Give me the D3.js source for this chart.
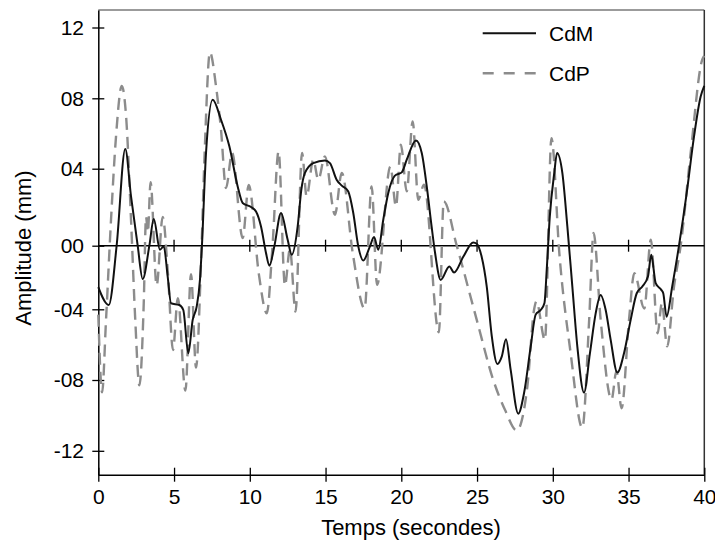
<!DOCTYPE html>
<html><head><meta charset="utf-8">
<script src="https://cdn.jsdelivr.net/npm/d3@7"></script>
<style>
body{margin:0;background:#fff}
svg{display:block}
text{font-family:"Liberation Sans",Arial,Helvetica,sans-serif;fill:#000}
</style>
</head><body>
<svg id="chart" width="715" height="540"></svg>
<script>
// ---- data ----
const seriesNames = ["CdM", "CdP"];
const xTickValues = [0, 5, 10, 15, 20, 25, 30, 35, 40];
const yTickValues = [12, 8, 4, 0, -4, -8, -12];
const yTickLabels = ["12", "08", "04", "00", "-04", "-08", "-12"];

const cdmTime = [0, 0.69, 1.21, 1.78, 2.16, 2.6, 2.93, 3.37, 3.66, 4.07, 4.32, 4.58, 4.8, 5.35, 5.61, 5.94, 6.23, 6.49, 6.71, 6.84, 7.11, 7.55, 8.1, 8.65, 9.2, 9.53, 10.08, 10.41, 10.74, 11.07, 11.29, 11.62, 12.06, 12.5, 12.77, 13.16, 13.4, 13.64, 14.19, 14.96, 15.29, 15.73, 16.07, 16.5, 16.83, 17.16, 17.49, 17.93, 18.2, 18.48, 18.81, 19.14, 19.58, 20.03, 20.36, 20.97, 21.35, 21.68, 22.0, 22.23, 22.6, 23.17, 23.48, 24.1, 24.75, 24.98, 25.3, 25.64, 25.97, 26.34, 26.63, 26.91, 27.22, 27.72, 28.1, 28.54, 28.87, 29.2, 29.45, 29.6, 29.8, 30.1, 30.28, 30.63, 30.96, 31.29, 31.62, 32.06, 32.45, 32.83, 33.16, 33.49, 33.82, 34.26, 34.7, 35.14, 35.54, 35.91, 36.28, 36.5, 36.79, 37.16, 37.29, 37.51, 37.88, 38.33, 38.84, 39.32, 39.76, 40];
const cdmValues = [-2.6, -3.73, 0, 5.12, 2.56, 0, -2.1, 0, 1.39, -0.25, -0.04, -1.94, -3.62, -3.73, -4.04, -6.49, -4.6, -3.85, -2.15, 0, 4.89, 7.92, 6.78, 5.27, 3.08, 2.22, 2.01, 1.78, 1.0, -0.46, -1.26, -0.04, 1.7, 0.31, -0.57, 1.0, 2.9, 3.78, 4.32, 4.47, 4.32, 3.43, 3.12, 2.82, 1.7, -0.04, -0.93, -0.04, 0.45, -0.25, 1.35, 2.74, 3.64, 3.81, 4.51, 5.6, 4.89, 3.08, 1.0, -0.46, -2.15, -1.31, -1.69, -0.68, 0.17, 0.1, -0.68, -2.57, -5.5, -7.09, -6.68, -5.7, -7.43, -9.9, -8.75, -6.12, -4.3, -4.04, -3.6, -1.5, 1.5, 3.8, 4.89, 3.78, 1.0, -2.57, -6.11, -8.71, -6.49, -4.23, -3.1, -4.04, -5.73, -7.58, -6.49, -4.6, -2.99, -2.57, -1.94, -0.57, -2.36, -2.78, -2.99, -4.42, -2.57, 0, 2.74, 5.82, 8.1, 8.7];

const cdpTime = [0, 0.25, 0.51, 0.84, 1.17, 1.55, 1.85, 2.16, 2.44, 2.71, 3.0, 3.15, 3.27, 3.45, 3.85, 4.25, 4.6, 4.93, 5.25, 5.75, 6.12, 6.45, 6.8, 7.02, 7.37, 7.77, 8.1, 8.43, 8.83, 9.53, 9.93, 10.6, 11.12, 11.5, 11.9, 12.32, 12.65, 13.02, 13.45, 13.75, 14.19, 14.52, 14.96, 15.62, 16.07, 16.8, 17.58, 18.04, 18.4, 19.28, 19.65, 19.97, 20.36, 20.75, 21.12, 21.5, 22.48, 22.8, 23.66, 24.98, 26.07, 26.85, 27.62, 28.32, 28.76, 28.92, 29.48, 29.91, 30.43, 31.18, 31.95, 32.4, 32.69, 33.16, 33.88, 34.2, 34.54, 35.03, 35.38, 36.04, 36.47, 36.92, 37.2, 37.55, 38.0, 38.44, 39.1, 39.87, 40];
const cdpValues = [-4.3, -8.7, -4.6, 1.35, 5.84, 8.7, 6.78, 1.35, -4.6, -8.3, -3.6, 1.5, 0.7, 3.3, -2.5, 1.5, -1.8, -6.3, -3.3, -8.6, -1.8, -7.3, -0.5, 4.9, 10.6, 8.68, 6.2, 3.0, 4.9, 0.4, 3.15, -1.8, -4.23, 0, 4.98, -2.5, -0.2, -4.13, 4.89, 2.56, 4.51, 3.43, 4.7, 1.61, 3.78, -0.5, -3.95, 3.08, -2.46, 4.13, 2.04, 5.36, 2.82, 6.69, 2.39, 3.17, -5.3, 2.3, 0, -4.6, -8.0, -9.7, -10.85, -8.37, -4.04, -3.5, -5.73, 5.74, -0.46, -6.49, -10.7, -4.6, 0.66, -4.6, -9.1, -7.5, -9.6, -4.6, -1.73, -3.95, 0.31, -5.36, -3.6, -6.1, -2.57, 0, 4.9, 10.2, 10.4];

// ---- chart ----
const svg = d3.select("#chart");
const x = d3.scaleLinear().domain([0, 40]).range([98.3, 704.3]);
const y = d3.scaleLinear()
  .domain([-13.36, -12, -8, -4, 0, 4, 8, 12, 13])
  .range([474.7, 450.8, 380, 309.3, 245.7, 168.7, 98.3, 27.5, 10]);

const xL = x.range()[0], xR = x.range()[1];
const yB = y.range()[0], yT = y.range()[y.range().length - 1];

// frame top/right
svg.append("line").attr("x1", xL).attr("x2", xR).attr("y1", yT).attr("y2", yT)
  .attr("stroke", "#7a7a7a").attr("stroke-width", 1.5);
svg.append("line").attr("x1", xR).attr("x2", xR).attr("y1", yT).attr("y2", yB)
  .attr("stroke", "#333").attr("stroke-width", 1.5);

// zero line with ticks
svg.append("line").attr("x1", xL).attr("x2", xR).attr("y1", y(0)).attr("y2", y(0))
  .attr("stroke", "#000").attr("stroke-width", 1.5);
svg.append("g").selectAll("line").data(xTickValues.filter(d => d > 0 && d < 40)).join("line")
  .attr("x1", d => x(d)).attr("x2", d => x(d))
  .attr("y1", y(0) - 6).attr("y2", y(0) + 6)
  .attr("stroke", "#000").attr("stroke-width", 1.3);

// axes
const yAxis = d3.axisLeft(y).tickValues(yTickValues)
  .tickFormat(d => yTickLabels[yTickValues.indexOf(d)])
  .tickSizeInner(6).tickSizeOuter(0).tickPadding(8.3);
const gy = svg.append("g").attr("transform", `translate(${xL},0)`).call(yAxis);
gy.selectAll(".tick line").attr("x1", 6).attr("x2", -6).attr("stroke-width", 1.3);
gy.select(".domain").attr("stroke-width", 1.5);
gy.selectAll("text").style("font-size", "21px").attr("font-family", null);

const xAxis = d3.axisBottom(x).tickValues(xTickValues).tickFormat(d3.format("d"))
  .tickSizeInner(7).tickSizeOuter(0).tickPadding(7.4);
const gx = svg.append("g").attr("transform", `translate(0,${yB})`).call(xAxis);
gx.selectAll(".tick line").attr("y1", -7).attr("y2", 7).attr("stroke-width", 1.3);
gx.select(".domain").attr("stroke-width", 1.5);
gx.selectAll("text").style("font-size", "21px").attr("font-family", null);

// lines
const cdp = cdpTime.map((t, i) => ({t, v: cdpValues[i]}));
const cdm = cdmTime.map((t, i) => ({t, v: cdmValues[i]}));
const line = d3.line().x(d => x(d.t)).y(d => y(d.v)).curve(d3.curveMonotoneX);

svg.append("path").datum(cdp).attr("d", line)
  .attr("fill", "none").attr("stroke", "#8c8c8c").attr("stroke-width", 2.4)
  .attr("stroke-dasharray", "12,7");
svg.append("path").datum(cdm).attr("d", line)
  .attr("fill", "none").attr("stroke", "#111").attr("stroke-width", 2);

// titles
svg.append("text").attr("x", 411).attr("y", 535).attr("text-anchor", "middle")
  .style("font-size", "22px").text("Temps (secondes)");
svg.append("text").attr("transform", "translate(31,248) rotate(-90)")
  .attr("text-anchor", "middle").style("font-size", "22px").text("Amplitude (mm)");

// legend
const legend = svg.append("g");
const legY = [33.3, 73.3];
legend.append("line").attr("x1", 482.7).attr("x2", 536).attr("y1", legY[0]).attr("y2", legY[0])
  .attr("stroke", "#111").attr("stroke-width", 2);
legend.append("line").attr("x1", 482.7).attr("x2", 536).attr("y1", legY[1]).attr("y2", legY[1])
  .attr("stroke", "#8c8c8c").attr("stroke-width", 2.4).attr("stroke-dasharray", "11,10");
legend.selectAll("text").data(seriesNames).join("text")
  .attr("x", 549).attr("y", (d, i) => legY[i] + 7.5)
  .style("font-size", "21px").text(d => d);
</script>
</body></html>
